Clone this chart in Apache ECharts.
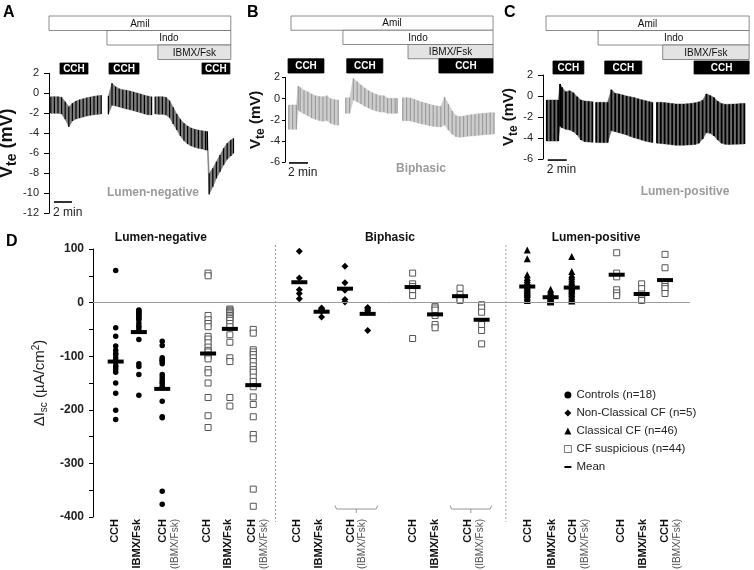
<!DOCTYPE html>
<html>
<head>
<meta charset="utf-8">
<script src="https://cdn.jsdelivr.net/npm/echarts@6.0.0/dist/echarts.min.js"></script>
<style>html,body{margin:0;padding:0;background:#fff;}#chart{width:754px;height:570px;}</style>
</head>
<body>
<div id="chart"></div>
<script>
const FONT = 'Arial, "Liberation Sans", sans-serif';

// ---------- Panels A-C: Vte recordings (time in min, Vte in mV), one sub-array per recorded segment
const aTime = [
  [0.2,0.6,1.0,1.4,1.8,2.2,2.6,3.0,3.4,3.8,4.2,4.6,5.0,5.4,5.8],
  [6.6,7.0,7.4,7.8,8.2,8.6,9.0,9.4,9.8,10.2,10.6,11.0,11.4],
  [11.8,12.2,12.6,13.0,13.4,13.8,14.2,14.6,15.0,15.4,15.8,16.2,16.6,17.0,17.4,17.6,17.8,18.2,18.6,19.0,19.4,19.8,20.2,20.5]
];
const aTop = [
  [-0.34,-0.34,-0.34,-0.4,-0.84,-1.34,-1.0,-0.77,-0.64,-0.54,-0.44,-0.37,-0.3,-0.24,-0.2],
  [-0.27,1.0,0.66,0.46,0.36,0.3,0.23,0.13,0.03,-0.07,-0.2,-0.27,-0.34],
  [-0.34,-0.34,-0.34,-0.4,-0.74,-1.4,-2.07,-2.6,-3.0,-3.27,-3.47,-3.6,-3.67,-3.74,-3.8,-3.82,-8.0,-7.5,-6.84,-6.17,-5.5,-5.0,-4.67,-4.5]
];
const aBot = [
  [-2.0,-2.0,-2.0,-2.07,-2.6,-3.34,-2.77,-2.57,-2.47,-2.37,-2.27,-2.2,-2.14,-2.1,-2.07],
  [-2.1,-1.2,-1.27,-1.37,-1.47,-1.57,-1.64,-1.74,-1.84,-1.94,-2.07,-2.14,-2.17],
  [-2.07,-2.1,-2.1,-2.17,-2.44,-3.07,-3.67,-4.27,-4.74,-5.07,-5.27,-5.4,-5.5,-5.57,-5.67,-5.7,-10.1,-9.34,-8.5,-7.84,-7.17,-6.6,-6.27,-6.0]
];

const bTime = [
  [0.4,0.8,1.2,1.4,1.6,2.0,2.4,2.8,3.2,3.6,4.0,4.4,4.8,5.2,5.6],
  [6.4,6.8,7.2,7.6,8.0,8.4,8.8,9.2,9.6,10.0,10.4,10.8,11.2,11.6,11.8],
  [12.4,12.8,13.2,13.6,14.0,14.4,14.8,15.2,15.6,16.0,16.4,16.8,17.2,17.6,18.0,18.4,18.8,19.2,19.6,20.0,20.4,20.8,21.2,21.6,22.0]
];
const bTop = [
  [-0.6,-0.6,-0.6,1.18,1.05,0.78,0.65,0.43,0.27,0.2,0.17,0.27,-0.01,-0.1,-0.14],
  [0.08,0.08,1.9,1.59,1.28,1.0,0.74,0.55,0.4,0.27,0.27,0.05,0.02,0.02,0.02],
  [0.08,0.08,0.05,-0.07,-0.2,-0.33,-0.42,-0.54,-0.64,-0.7,-0.74,0.15,-0.51,-1.17,-1.61,-1.7,-1.64,-1.58,-1.52,-1.48,-1.42,-1.39,-1.36,-1.33,-1.33]
];
const bBot = [
  [-2.9,-2.9,-2.9,-1.08,-1.23,-1.42,-1.61,-1.83,-1.95,-2.07,-2.14,-2.07,-2.33,-2.45,-2.52],
  [-1.39,-1.39,-0.14,-0.3,-0.51,-0.73,-0.89,-1.05,-1.17,-1.27,-1.27,-1.39,-1.39,-1.39,-1.39],
  [-2.08,-2.08,-2.11,-2.2,-2.3,-2.39,-2.45,-2.55,-2.61,-2.65,-2.68,-2.5,-2.96,-3.36,-3.59,-3.64,-3.61,-3.55,-3.52,-3.49,-3.45,-3.42,-3.39,-3.36,-3.33]
];

const cTime = [
  [0.4,0.8,1.2,1.6,1.8,2.0,2.4,2.8,3.2,3.6,4.0,4.4,4.8,5.2],
  [5.6,6.0,6.4,6.8,7.2,7.6,8.0,8.4,8.8,9.2,9.6,10.0,10.4,10.8,11.2,11.5],
  [12.0,12.4,12.8,13.2,13.6,14.0,14.4,14.8,15.2,15.6,16.0,16.4,16.8,17.2,17.6,18.0,18.4,18.8,19.2,19.6,20.0,20.4,20.8,21.2]
];
const cTop = [
  [-0.38,-0.38,-0.38,-0.38,1.15,0.83,0.41,0.5,0.31,-0.07,-0.38,-0.48,-0.51,-0.54],
  [-0.6,-0.6,-0.6,-0.6,0.6,0.26,0.2,0.1,0.0,-0.08,-0.15,-0.27,-0.36,-0.45,-0.54,-0.6],
  [-0.6,-0.6,-0.63,-0.67,-0.72,-0.76,-0.76,-0.76,-0.74,-0.7,-0.65,-0.56,-0.4,0.2,0.05,-0.15,-0.5,-0.72,-0.79,-0.79,-0.77,-0.75,-0.72,-0.7]
];
const cBot = [
  [-4.29,-4.29,-4.29,-4.29,-2.9,-3.02,-3.17,-3.24,-3.4,-3.71,-4.19,-4.35,-4.38,-4.41],
  [-4.44,-4.44,-4.44,-4.44,-3.3,-3.4,-3.5,-3.6,-3.71,-3.85,-3.98,-4.08,-4.2,-4.3,-4.38,-4.44],
  [-4.5,-4.52,-4.56,-4.6,-4.65,-4.69,-4.69,-4.69,-4.67,-4.65,-4.62,-4.5,-4.1,-3.5,-3.55,-3.8,-4.2,-4.5,-4.6,-4.62,-4.6,-4.59,-4.58,-4.57]
];

// protocol bars: [row, start min, end min]; rows: Amil, Indo, IBMX/Fsk, CCH
const protoLabels = ['Amil','Indo','IBMX/Fsk','CCH'];
const aProto = [[0,0,20.2],[1,6.44,20.2],[2,12.1,20.2],[3,1.22,4.33],[3,6.67,10.0],[3,17.0,20.1]];
const bProto = [[0,0.63,21.9],[1,6.1,21.9],[2,12.95,21.9],[3,0.32,4.1],[3,6.5,10.3],[3,16.2,21.9]];
const cProto = [[0,0.32,21.7],[1,5.8,21.7],[2,12.6,21.7],[3,1.05,4.3],[3,6.5,10.4],[3,15.9,21.7]];

// ---------- Panel D: ΔIsc (µA/cm²)
const ctrlCCH      = [60,-47,-63,-81,-89,-95,-97,-103,-108,-111,-118,-120,-125,-130,-150,-169,-201,-218];
const ctrlIBMX     = [-14,-15,-18,-20,-22,-25,-27,-30,-32,-38,-43,-47,-52,-69,-114,-119,-134,-173];
const ctrlCCHIBMX  = [-72,-80,-103,-106,-108,-110,-114,-134,-139,-144,-148,-151,-156,-184,-213,-215,-352,-376];
const cfsLnCCH     = [55,50,-24,-32,-39,-45,-63,-68,-75,-83,-89,-92,-98,-100,-105,-125,-131,-150,-177,-211,-233];
const cfsLnIBMX    = [-12,-14,-16,-18,-21,-24,-27,-30,-33,-39,-45,-60,-74,-103,-110,-177,-193];
const cfsLnCCHIBMX = [-50,-57,-88,-92,-97,-103,-110,-118,-125,-130,-139,-147,-157,-176,-190,-213,-246,-254,-348,-380];
const ncCCH        = [96,46,24,17,7];
const ncIBMX       = [-10,-12,-14,-16,-27];
const ncCCHIBMX1   = [68,37,23,6,1];
const ncCCHIBMX2   = [-9,-12,-15,-18,-52];
const cfsBiCCH     = [55,35,30,24,13,-67];
const cfsBiIBMX    = [-7,-10,-14,-24,-41,-47];
const cfsBiCCHIBMX1= [27,15,5,4];
const cfsBiCCHIBMX2= [-4,-10,-18,-41,-52,-77];
const clCCH        = [98,82,52,47,43,40,37,34,31,29,27,25,23,21,19,17,15,12,9,6,4];
const clIBMX       = [25,21,18,15,13,11,10,8,7,6,5,4,3,2,2,1];
const clCCHIBMX    = [86,58,52,48,44,40,37,34,31,28,26,24,22,20,17,14,11,8,5,3];
const cfsLpCCH     = [93,55,48,24,18,13];
const cfsLpIBMX    = [35,26,16,7,4];
const cfsLpCCHIBMX = [90,65,37,30,26,17];

const colValues = [ctrlCCH,ctrlIBMX,ctrlCCHIBMX,cfsLnCCH,cfsLnIBMX,cfsLnCCHIBMX,
  ncCCH,ncIBMX,ncCCHIBMX1,ncCCHIBMX2,cfsBiCCH,cfsBiIBMX,cfsBiCCHIBMX1,cfsBiCCHIBMX2,
  clCCH,clIBMX,clCCHIBMX,cfsLpCCH,cfsLpIBMX,cfsLpCCHIBMX];
const colGroup = ['ctrl','ctrl','ctrl','cfs','cfs','cfs','nc','nc','nc','nc','cfs','cfs','cfs','cfs','cl','cl','cl','cfs','cfs','cfs'];
const colMeans = [-110,-55,-161,-95,-49,-154,38,-17,26,-21,29,-22,12,-32,30,10,28,52,16,42];
const colPos   = [1.0,2.02,3.05,5.07,6.03,7.06,9.09,10.07,11.1,12.1,14.08,15.07,16.17,17.12,19.13,20.16,21.09,23.07,24.17,25.2];
const xLabelPos  = [0.97,1.94,3.35,5.02,5.95,7.27,8.99,9.96,11.61,14.1,15.07,16.78,19.16,20.22,21.41,23.26,24.23,25.46];
const xLabelText = ['CCH','IBMX/Fsk','CCH (IBMX/Fsk)','CCH','IBMX/Fsk','CCH (IBMX/Fsk)',
  'CCH','IBMX/Fsk','CCH (IBMX/Fsk)','CCH','IBMX/Fsk','CCH (IBMX/Fsk)',
  'CCH','IBMX/Fsk','CCH (IBMX/Fsk)','CCH','IBMX/Fsk','CCH (IBMX/Fsk)'];
const groupNames = ['Lumen-negative','Biphasic','Lumen-positive'];
const groupPos   = [2.99,13.08,22.16];
const separatorPos = [8.04,18.19];
const bracketCols = [[8,9],[12,13]];

// ---------- build
const panelCfg = [
  {time:aTime, top:aTop, bot:aBot, proto:aProto, left:49, gTop:73.3, gH:140, ppm:9, xMax:20.5, yMin:-12, yMax:2,
   boxTop:16, boxH:58, cchInset:3.5, fill:'#7d7d7d', stroke:'#000', lw:1.2, nameGap:26, nameSize:18, labMargin:10, tickLen:5,
   bar:[0.55,-10.87], barTxtY:-11.95, tag:'Lumen-negative', tagPos:[153,193], letter:'A', letterPos:[3,5]},
  {time:bTime, top:bTop, bot:bBot, proto:bProto, left:285, gTop:77.3, gH:85, ppm:9.5, xMax:22.2, yMin:-6, yMax:2,
   boxTop:16, boxH:57, cchInset:0, fill:'#cdcdcd', stroke:'#9c9c9c', lw:1.2, nameGap:18, nameSize:15, labMargin:5, tickLen:3,
   bar:[0.42,-6.06], barTxtY:-7.0, tag:'Biphasic', tagPos:[421,169], letter:'B', letterPos:[247,5]},
  {time:cTime, top:cTop, bot:cBot, proto:cProto, left:543, gTop:75, gH:84, ppm:9.5, xMax:21.7, yMin:-6, yMax:2,
   boxTop:16, boxH:58, cchInset:1.5, fill:'#6a6a6a', stroke:'#000', lw:1.8, nameGap:22, nameSize:15, labMargin:10, tickLen:5,
   bar:[0.5,-6.1], barTxtY:-7.05, tag:'Lumen-positive', tagPos:[685,192], letter:'C', letterPos:[504,5]}
];

const grids = [], xAxes = [], yAxes = [], series = [], graphics = [];

panelCfg.forEach((p, i) => {
  const w = p.xMax * p.ppm;
  const gi = 2 * i, bi = 2 * i + 1;
  grids.push({left:p.left, top:p.gTop, width:w, height:p.gH, outerBoundsMode:'none', containLabel:false});
  grids.push({left:p.left, top:p.boxTop, width:w, height:p.boxH, outerBoundsMode:'none', containLabel:false});
  xAxes.push({type:'value', gridIndex:gi, min:0, max:p.xMax, show:false});
  xAxes.push({type:'value', gridIndex:bi, min:0, max:p.xMax, show:false});
  yAxes.push({
    type:'value', gridIndex:gi, min:p.yMin, max:p.yMax, interval:2,
    axisLine:{show:true, onZero:false, lineStyle:{color:'#000', width:1}},
    axisTick:{show:true, length:p.tickLen, lineStyle:{color:'#000', width:1}},
    axisLabel:{color:'#222', fontSize:11, fontFamily:FONT, margin:p.labMargin},
    splitLine:{show:false},
    name:'{v|V}{s|te}{v| (mV)}', nameLocation:'middle', nameGap:p.nameGap, nameRotate:90,
    nameTextStyle:{rich:{
      v:{fontSize:p.nameSize, fontWeight:'bold', fontFamily:FONT, color:'#111'},
      s:{fontSize:Math.round(p.nameSize*0.78), fontWeight:'bold', fontFamily:FONT, color:'#111', padding:[Math.round(p.nameSize*0.55),0,0,0]}
    }}
  });
  yAxes.push({type:'value', gridIndex:bi, min:0, max:4, inverse:true, show:false});

  const flat = [];
  p.time.forEach((seg, s) => seg.forEach((t, k) => flat.push([t, p.top[s][k], p.bot[s][k], s])));

  // band between pulse envelopes
  series.push({
    type:'custom', xAxisIndex:gi, yAxisIndex:gi, data:flat, silent:true, encode:{x:0, y:[1,2]},
    renderItem(params, api) {
      const cur = flat[params.dataIndex], nx = flat[params.dataIndex + 1];
      if (!nx || nx[3] !== cur[3]) return null;
      const pts = [api.coord([cur[0],cur[1]]), api.coord([nx[0],nx[1]]), api.coord([nx[0],nx[2]]), api.coord([cur[0],cur[2]])];
      return {type:'polygon', shape:{points:pts}, style:{fill:p.fill, stroke:p.fill, lineWidth:0.6}};
    }
  });
  // pulse deflections
  series.push({
    type:'custom', xAxisIndex:gi, yAxisIndex:gi, data:flat, silent:true, encode:{x:0, y:[1,2]},
    renderItem(params, api) {
      const a = api.coord([api.value(0), api.value(1)]), b = api.coord([api.value(0), api.value(2)]);
      return {type:'line', shape:{x1:a[0], y1:a[1], x2:b[0], y2:b[1]}, style:{stroke:p.stroke, lineWidth:p.lw}};
    }
  });
  // scale bar "2 min"
  series.push({
    type:'custom', xAxisIndex:gi, yAxisIndex:gi, data:[p.bar], silent:true, encode:{x:0, y:1},
    renderItem(params, api) {
      const t = api.value(0), y = api.value(1);
      const a = api.coord([t, y]), b = api.coord([t + 2, y]);
      const tp = api.coord([t - 0.1, p.barTxtY]);
      return {type:'group', children:[
        {type:'line', shape:{x1:a[0], y1:a[1], x2:b[0], y2:b[1]}, style:{stroke:'#000', lineWidth:1.6}},
        {type:'text', style:{text:'2 min', x:tp[0], y:tp[1], font:'12px ' + FONT, fill:'#222',
          align:'left', verticalAlign:'middle', textAlign:'left', textVerticalAlign:'middle'}}
      ]};
    }
  });
  // protocol bars
  series.push({
    type:'custom', xAxisIndex:bi, yAxisIndex:bi, data:p.proto, silent:true, encode:{x:[1,2], y:0},
    renderItem(params, api) {
      const row = api.value(0), s = api.value(1), e = api.value(2);
      const p0 = api.coord([s, row]), p1 = api.coord([e, row + 1]);
      const isC = row === 3;
      const y0 = p0[1] + (isC ? p.cchInset : 0), y1 = p1[1];
      return {type:'group', children:[
        {type:'rect', shape:{x:p0[0], y:y0, width:p1[0]-p0[0], height:y1-y0},
          style:{fill: isC ? '#000' : (row === 2 ? '#e3e3e3' : '#fff'), stroke: isC ? '#000' : '#6f6f6f', lineWidth:0.8}},
        {type:'text', style:{text:protoLabels[row], x:(p0[0]+p1[0])/2, y:(y0+y1)/2 + 0.5,
          font:(isC ? 'bold 10px ' : '10px ') + FONT, fill: isC ? '#fff' : '#111',
          align:'center', verticalAlign:'middle', textAlign:'center', textVerticalAlign:'middle'}}
      ]};
    }
  });

  graphics.push({type:'text', left:p.letterPos[0], top:p.letterPos[1], style:{text:p.letter, font:'bold 16px ' + FONT, fill:'#000'}});
  graphics.push({type:'text', x:p.tagPos[0], y:p.tagPos[1], style:{text:p.tag, font:'bold 12px ' + FONT, fill:'#9b9b9b',
    align:'center', verticalAlign:'middle', textAlign:'center', textVerticalAlign:'middle'}});
});

// ---------- Panel D
const DG = 6;
grids.push({left:93, top:249, width:597, height:268, outerBoundsMode:'none', containLabel:false});
xAxes.push({
  type:'value', gridIndex:DG, min:0, max:26.3, position:'bottom',
  axisLine:{show:false, onZero:false}, axisTick:{show:false}, splitLine:{show:false},
  axisLabel:{
    customValues:xLabelPos, rotate:90, margin:2, color:'#111', fontFamily:FONT,
    formatter(v) {
      let k = 0, best = 1e9;
      xLabelPos.forEach((q, j) => { if (Math.abs(q - v) < best) { best = Math.abs(q - v); k = j; } });
      const t = xLabelText[k];
      const m = t.indexOf(' (');
      return m > 0 ? '{b|' + t.slice(0, m) + '}\n{n|' + t.slice(m + 1) + '}' : '{b|' + t + '}';
    },
    rich:{
      b:{fontSize:11, fontWeight:'bold', fontFamily:FONT, color:'#111', lineHeight:12},
      n:{fontSize:10, fontFamily:FONT, color:'#555', lineHeight:12}
    }
  }
});
xAxes.push({
  type:'value', gridIndex:DG, min:0, max:26.3, position:'top',
  axisLine:{show:false, onZero:false}, axisTick:{show:false}, splitLine:{show:false},
  axisLabel:{customValues:groupPos, margin:5, color:'#111', fontSize:12, fontWeight:'bold', fontFamily:FONT,
    formatter(v) {
      let k = 0, best = 1e9;
      groupPos.forEach((q, j) => { if (Math.abs(q - v) < best) { best = Math.abs(q - v); k = j; } });
      return groupNames[k];
    }}
});
yAxes.push({
  type:'value', gridIndex:DG, min:-400, max:100, interval:50,
  axisLine:{show:true, onZero:false, lineStyle:{color:'#000', width:1}},
  axisTick:{show:true, length:4, lineStyle:{color:'#000'}},
  axisLabel:{color:'#222', fontSize:12, fontWeight:'bold', fontFamily:FONT, margin:9,
    formatter:(v) => (v % 100 === 0 ? String(v) : '')},
  splitLine:{show:false},
  name:'{a|ΔI}{s|sc}{a| (µA/cm}{p|2}{a|)}', nameLocation:'middle', nameGap:42, nameRotate:90,
  nameTextStyle:{rich:{
    a:{fontSize:15, fontFamily:FONT, color:'#222'},
    s:{fontSize:10, fontFamily:FONT, color:'#222', padding:[8,0,0,0]},
    p:{fontSize:10, fontFamily:FONT, color:'#222', padding:[0,0,8,0]}
  }}
});
const XD = xAxes.length - 2, YD = yAxes.length - 1;

// separators
series.push({
  type:'custom', xAxisIndex:XD, yAxisIndex:YD, silent:true, data:separatorPos.map(x => [x, 0]), encode:{x:0, y:1},
  renderItem(params, api) {
    const a = api.coord([api.value(0), 100]), b = api.coord([api.value(0), -400]);
    return {type:'line', shape:{x1:a[0], y1:a[1] - 4, x2:b[0], y2:b[1] + 5}, style:{stroke:'#8a8a8a', lineWidth:0.8, lineDash:[2,2]}};
  }
});
// brackets for biphasic CCH (IBMX/Fsk)
series.push({
  type:'custom', xAxisIndex:XD, yAxisIndex:YD, silent:true,
  data:bracketCols.map(c => [colPos[c[0]], colPos[c[1]]]), encode:{x:[0,1]},
  renderItem(params, api) {
    const a = api.coord([api.value(0), -400]), b = api.coord([api.value(1), -400]);
    const y = a[1] - 8, x0 = a[0] - 10, x1 = b[0] + 10, xc = (x0 + x1) / 2;
    return {type:'group', children:[
      {type:'polyline', shape:{points:[[x0, y - 3.5],[x0 + 1.5, y],[x1 - 1.5, y],[x1, y - 3.5]]}, style:{stroke:'#8a8a8a', lineWidth:0.9, fill:null}},
      {type:'line', shape:{x1:xc, y1:y, x2:xc, y2:y + 4}, style:{stroke:'#8a8a8a', lineWidth:0.9}}
    ]};
  }
});

const groupDefs = [
  {key:'ctrl', name:'Controls (n=18)', symbol:'circle', size:5.5, style:{color:'#000', opacity:1}},
  {key:'nc', name:'Non-Classical CF (n=5)', symbol:'diamond', size:7, style:{color:'#000', opacity:1}},
  {key:'cl', name:'Classical CF (n=46)', symbol:'triangle', size:7, style:{color:'#000', opacity:1}},
  {key:'cfs', name:'CF suspicious (n=44)', symbol:'rect', size:6, style:{color:'#fff', borderColor:'#555', borderWidth:1, opacity:1}}
];
groupDefs.forEach(g => {
  const data = [];
  colValues.forEach((vals, c) => { if (colGroup[c] === g.key) vals.forEach(v => data.push([colPos[c], v])); });
  series.push({
    type:'scatter', name:g.name, xAxisIndex:XD, yAxisIndex:YD, data, symbol:g.symbol, symbolSize:g.size,
    itemStyle:g.style, silent:true, z:3
  });
});
series.push({
  type:'scatter', name:'Mean', xAxisIndex:XD, yAxisIndex:YD, data:colMeans.map((m, c) => [colPos[c], m]),
  symbol:'rect', symbolSize:[16,4], itemStyle:{color:'#000', opacity:1}, silent:true, z:4,
  markLine:{silent:true, symbol:'none', label:{show:false}, lineStyle:{color:'#9a9a9a', width:1, type:'solid'},
    emphasis:{disabled:true}, data:[{yAxis:0}]}
});

graphics.push({type:'text', left:6, top:234, style:{text:'D', font:'bold 16px ' + FONT, fill:'#000'}});

const option = {
  animation:false,
  backgroundColor:'#fff',
  textStyle:{fontFamily:FONT},
  grid:grids, xAxis:xAxes, yAxis:yAxes, series, graphic:graphics,
  legend:{
    orient:'vertical', left:559, top:384, itemGap:6, itemWidth:7, itemHeight:7,
    textStyle:{fontSize:11.5, color:'#222', fontFamily:FONT},
    selectedMode:false,
    data:[
      {name:'Controls (n=18)', icon:'circle'},
      {name:'Non-Classical CF (n=5)', icon:'diamond'},
      {name:'Classical CF (n=46)', icon:'triangle'},
      {name:'CF suspicious (n=44)', icon:'rect', itemStyle:{borderWidth:0.8}},
      {name:'Mean', icon:'path://M0,0H12V3.5H0Z'}
    ]
  }
};

const chart = echarts.init(document.getElementById('chart'), null, {renderer:'canvas', width:754, height:570});
chart.setOption(option);
</script>
</body>
</html>
